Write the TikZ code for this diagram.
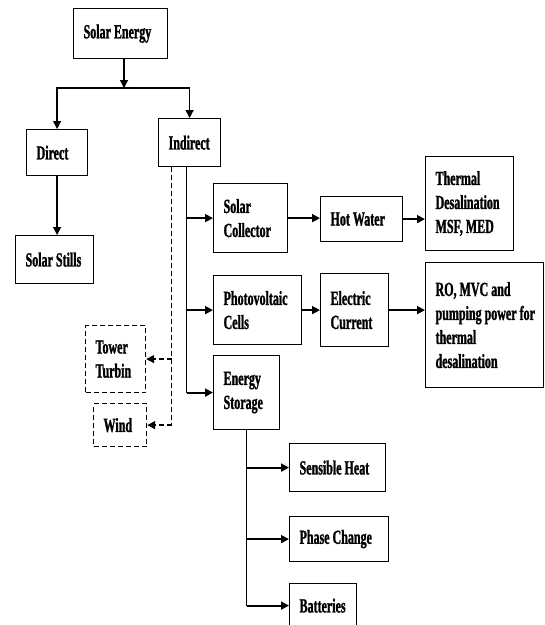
\documentclass[tikz,border=0pt]{standalone}
\usepackage{fontspec}
\setmainfont{Liberation Serif}[BoldFont={Liberation Serif Bold},FakeStretch=0.6,BoldFeatures={FakeBold=1.2}]
\usetikzlibrary{arrows.meta,positioning}

\begin{document}
\begin{tikzpicture}[x=1pt,y=-1pt,
  box/.style={draw,line width=1.2pt,anchor=north west,align=left,inner xsep=10pt,inner ysep=0pt,
    font=\bfseries\fontsize{20}{24}\selectfont,
    execute at begin node={\spaceskip=0pt\xspaceskip=0pt}},
  dbox/.style={box,dash pattern=on 5pt off 3pt},
  link/.style={line width=1.3pt},
  arr/.style={line width=1.8pt,-{Triangle[length=8pt,width=8pt]}},
  darr/.style={arr,line width=1.3pt,dash pattern=on 5pt off 3pt},
]
\useasboundingbox (0,0) rectangle (545,625);

% top of the tree
\node[box,text width=74pt,minimum height=50pt] (energy) at (73,8) {Solar Energy};
\node[box,text width=41pt,minimum height=46pt] (direct) at (26,129) {Direct};
\node[box,text width=42pt,minimum height=48pt] (indirect) at (158,118) {Indirect};
\node[box,text width=58pt,minimum height=48pt] (stills) at (15,235) {Solar Stills};

% indirect routes
\node[box,text width=54pt,minimum height=69pt] (collector) at (213,183) {Solar\\Collector};
\node[box,text width=62pt,minimum height=45pt] (hotwater) at (320,196) {Hot Water};
\node[box,text width=68pt,minimum height=94pt] (thermal) at (425,156) {Thermal\\Desalination\\MSF, MED};
\node[box,text width=68pt,minimum height=69pt] (pvcells) at (213,275) {Photovoltaic\\Cells};
\node[box,text width=48pt,minimum height=73pt] (current) at (320,273) {Electric\\Current};
\node[box,text width=98pt,minimum height=125pt] (romvc) at (425,262) {RO, MVC and\\\mbox{pumping power for}\\thermal\\desalination};
\node[box,text width=46pt,minimum height=74pt] (storage) at (213,355) {Energy\\Storage};

% dashed side branch
\node[dbox,text width=40pt,minimum height=67pt] (tower) at (85,325) {Tower\\Turbin};
\node[dbox,text width=33pt,minimum height=43pt] (wind) at (93,403) {Wind};

% storage kinds
\node[box,text width=76pt,minimum height=48pt] (sensible) at (289,443) {Sensible Heat};
\node[box,text width=79pt,minimum height=45pt] (phase) at (289,516) {Phase Change};
\node[box,text width=47pt,minimum height=44pt] (batteries) at (289,583) {Batteries};

% connectors
\coordinate (split) at (124,88);
\draw[arr,line width=1.3pt] (energy.south -| split) -- (split);
\draw[arr,line width=1.3pt] (split) -| (direct.north);
\draw[arr,line width=1.3pt] (split) -| (indirect.north);
\draw[arr,line width=1.3pt] (direct.south) -- (direct.south |- stills.north);

\coordinate (trunk) at ([xshift=-3pt]indirect.south);
\draw[link] (trunk) -- (trunk |- storage.west);
\foreach \n in {collector,pvcells,storage}
  \draw[arr] (trunk |- \n.west) -- (\n.west);

\draw[arr] (collector.east) -- (hotwater.west |- collector.east);
\draw[arr] (hotwater.east) -- (thermal.west |- hotwater.east);
\draw[arr] (pvcells.east) -- (current.west |- pvcells.east);
\draw[arr] (current.east) -- (romvc.west |- current.east);

\coordinate (dtrunk) at ([xshift=-18pt]indirect.south);
\draw[link,dash pattern=on 5pt off 3pt] (dtrunk) -- (dtrunk |- wind.east);
\draw[darr] (dtrunk |- tower.east) -- (tower.east);
\draw[darr] (dtrunk |- wind.east) -- (wind.east);

\draw[link] (storage.south) -- (storage.south |- batteries.west);
\foreach \n in {sensible,phase,batteries}
  \draw[arr] (storage.south |- \n.west) -- (\n.west);
\end{tikzpicture}
\end{document}
